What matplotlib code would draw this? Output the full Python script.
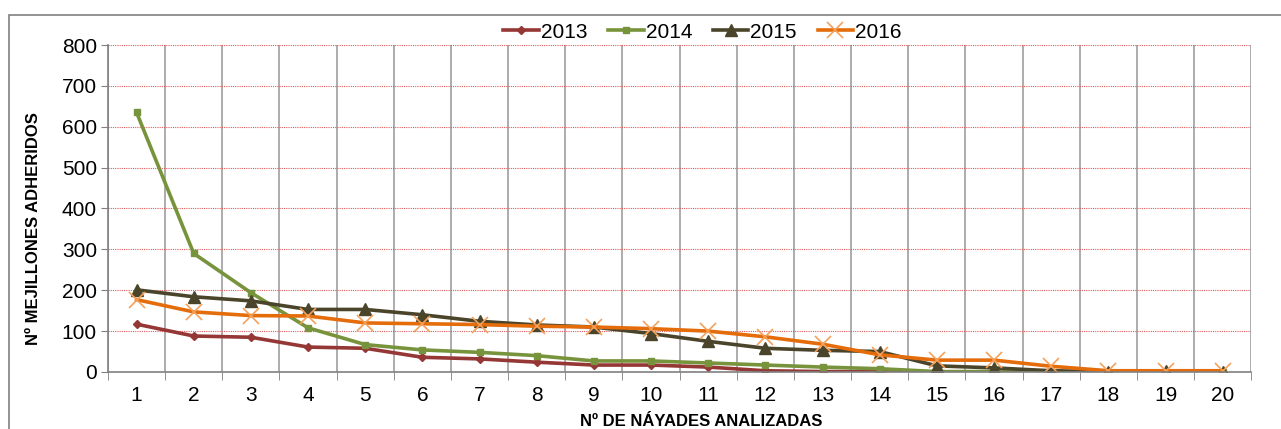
import numpy as np
import matplotlib
matplotlib.use("Agg")
import matplotlib.pyplot as plt
from matplotlib.patches import Rectangle

plt.rcParams['font.family'] = ['Liberation Sans Narrow', 'Liberation Sans', 'DejaVu Sans']

# --- data ---
naiades = list(range(1, 21))
y2013 = [117, 88, 85, 61, 58, 36, 32, 24, 17, 17, 12, 3, 1, 1, 0, 0, 0, 0, 0, 0]
y2014 = [635, 290, 194, 108, 67, 54, 48, 40, 27, 27, 22, 17, 12, 8, 1, 1, 0, 0, 0, 0]
y2015 = [201, 184, 174, 153, 153, 140, 124, 115, 110, 94, 75, 58, 53, 50, 15, 10, 3, 1, 2, 1]
y2016 = [177, 147, 138, 137, 120, 118, 116, 112, 110, 106, 100, 86, 68, 42, 29, 29, 14, 3, 3, 3]
labels = ['2013', '2014', '2015', '2016']

fig = plt.figure(figsize=(12.81, 4.29), dpi=100)
ax = fig.add_axes([0.0843, 0.1329, 0.8925, 0.7622])

ax.plot(naiades, y2013, color='#953735', lw=2.6, marker='D', ms=4, label=labels[0])
ax.plot(naiades, y2014, color='#77933C', lw=2.6, marker='s', ms=4.5, label=labels[1])
ax.plot(naiades, y2015, color='#4A452A', lw=2.6, marker='^', ms=9, label=labels[2])
ax.plot(naiades, y2016, color='#E46C0A', lw=2.6, marker='x', ms=11, mew=1.2,
        markeredgecolor='#F5A05A', label=labels[3])

ax.set_xlim(0.5, 20.5)
ax.set_ylim(0, 800)
ax.set_yticks(np.arange(0, 801, 100))
ax.set_xticks(naiades)
ax.set_xticks(np.arange(0.5, 20.6, 1), minor=True)
ax.tick_params(axis='x', which='major', length=0, labelsize=15, pad=10)
ax.tick_params(axis='x', which='minor', length=6, color='#808080', direction='out')
ax.tick_params(axis='y', length=5, color='#808080', labelsize=15, pad=3)

ax.grid(True, axis='y', which='major', color='#E05A5A', ls=(0, (1, 1)), lw=0.8)
ax.grid(True, axis='x', which='minor', color='#A6A6A6', ls='-', lw=1.3)
ax.set_axisbelow(True)

for s in ['top', 'right']:
    ax.spines[s].set_visible(False)
for s in ['left', 'bottom']:
    ax.spines[s].set_color('#808080')
    ax.spines[s].set_linewidth(1.2)

ax.set_ylabel('Nº MEJILLONES ADHERIDOS', fontsize=12, fontweight='bold',
              family=['Liberation Sans', 'DejaVu Sans'])
ax.yaxis.set_label_coords(-0.059, 0.44)
fig.text(0.547, 0.034, 'Nº DE NÁYADES ANALIZADAS', fontsize=12, fontweight='bold',
         family=['Liberation Sans', 'DejaVu Sans'], ha='center', va='top')

ax.legend(loc='lower center', bbox_to_anchor=(0.52, 0.985), ncol=4, frameon=False,
          fontsize=15, handlelength=1.7, handletextpad=0.1, columnspacing=1.0,
          borderaxespad=0)

# outer frame of the chart area
fig.patches.append(Rectangle((9 / 1281, -0.1), 1.2, 1 - 15 / 429 + 0.1,
                             transform=fig.transFigure, fill=False,
                             edgecolor='#808080', lw=1.2))

fig.savefig('out.png', dpi=100)
